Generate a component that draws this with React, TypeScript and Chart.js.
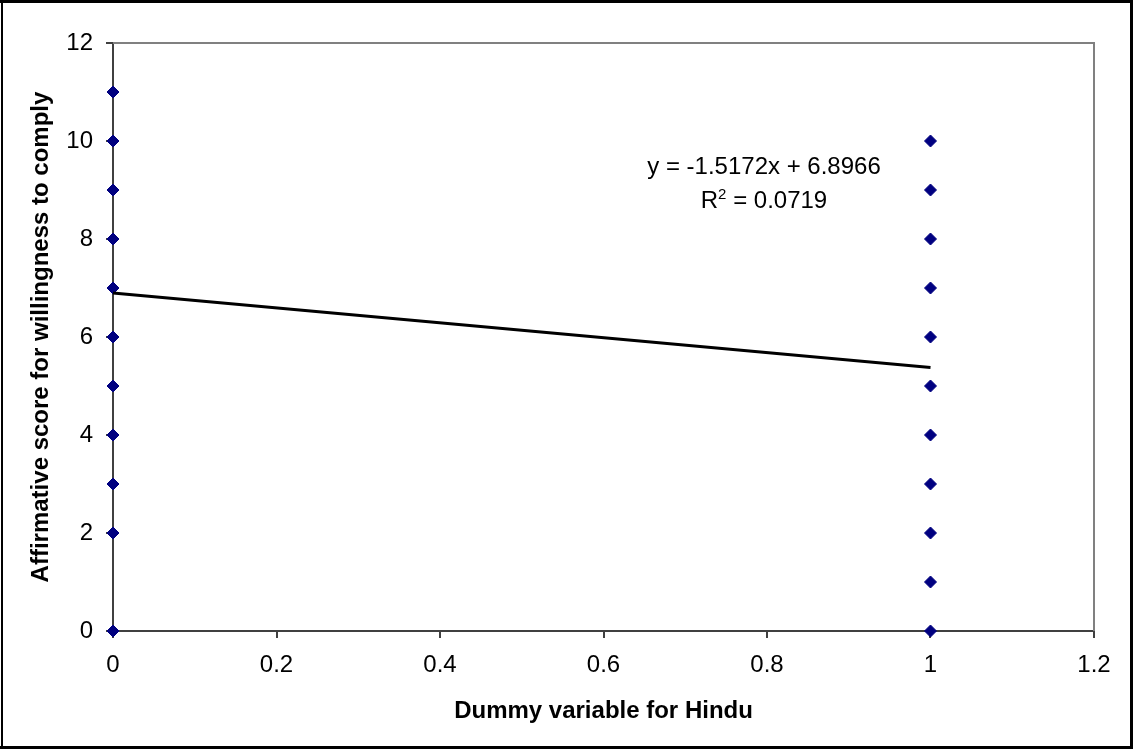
import React, { useEffect, useRef } from "react";
import { Chart, registerables } from "chart.js";

Chart.register(...registerables);

const hinduZeroScores = [11, 10, 9, 8, 7, 6, 5, 4, 3, 2, 0];
const hinduOneScores = [10, 9, 8, 7, 6, 5, 4, 3, 2, 1, 0];
const trendSlope = -1.5172;
const trendIntercept = 6.8966;
const trendXs = [0, 1];
const equationLabel = "y = -1.5172x + 6.8966";
const rSquaredValue = "0.0719";
const xTitle = "Dummy variable for Hindu";
const yTitle = "Affirmative score for willingness to comply";

const FONT = "'Liberation Sans', Arial, sans-serif";

const framePlugin = {
  id: "frame",
  afterDraw(chart: any) {
    const { ctx, chartArea, width, height } = chart;
    ctx.save();
    // outer border
    ctx.fillStyle = "#000";
    ctx.fillRect(0, 0, width, 3);
    ctx.fillRect(0, height - 3, width, 3);
    ctx.fillRect(1, 0, 2, height);
    ctx.fillRect(width - 3, 0, 3, height);
    // top / right plot border
    ctx.strokeStyle = "#808080";
    ctx.lineWidth = 2;
    ctx.beginPath();
    ctx.moveTo(chartArea.left, chartArea.top);
    ctx.lineTo(chartArea.right, chartArea.top);
    ctx.lineTo(chartArea.right, chartArea.bottom);
    ctx.stroke();
    // equation labels
    ctx.fillStyle = "#000";
    ctx.font = `24px ${FONT}`;
    ctx.textBaseline = "middle";
    ctx.textAlign = "center";
    const cx = 764;
    ctx.fillText(equationLabel, cx, 167);
    const part1 = "R";
    const part3 = " = " + rSquaredValue;
    ctx.font = `24px ${FONT}`;
    const w1 = ctx.measureText(part1).width;
    const w3 = ctx.measureText(part3).width;
    ctx.font = `15px ${FONT}`;
    const w2 = ctx.measureText("2").width;
    const total = w1 + w2 + w3;
    let x = cx - total / 2;
    ctx.textAlign = "left";
    ctx.font = `24px ${FONT}`;
    ctx.fillText(part1, x, 201);
    x += w1;
    ctx.font = `15px ${FONT}`;
    ctx.fillText("2", x, 195);
    x += w2;
    ctx.font = `24px ${FONT}`;
    ctx.fillText(part3, x, 201);
    ctx.restore();
  },
};

export default function App() {
  const ref = useRef<HTMLCanvasElement>(null);
  useEffect(() => {
    document.body.style.margin = "0";
    const pointStyle = {
      pointStyle: "rectRot",
      pointRadius: 6,
      pointBackgroundColor: "#000080",
      pointBorderColor: "#000080",
      pointBorderWidth: 1,
      showLine: false,
      clip: false,
    };
    const chart = new Chart(ref.current!, {
      type: "scatter",
      data: {
        datasets: [
          {
            data: trendXs.map((x) => ({ x, y: trendSlope * x + trendIntercept })),
            showLine: true,
            borderColor: "#000",
            borderWidth: 3,
            pointRadius: 0,
            type: "line",
            clip: false,
          } as any,
          {
            data: hinduZeroScores.map((y) => ({ x: 0, y })),
            ...pointStyle,
          } as any,
          {
            data: hinduOneScores.map((y) => ({ x: 1, y })),
            ...pointStyle,
          } as any,
        ],
      },
      options: {
        responsive: false,
        animation: false,
        layout: { padding: { top: 43, right: 39, left: 0, bottom: 0 } },
        plugins: { legend: { display: false }, tooltip: { enabled: false } },
        scales: {
          x: {
            type: "linear",
            min: 0,
            max: 1.2,
            afterFit: (s: any) => {
              s.height = 118;
            },
            ticks: {
              stepSize: 0.2,
              color: "#000",
              padding: 13,
              maxRotation: 0,
              font: { family: FONT, size: 24 },
              callback: (v: any) => String(Number(Number(v).toFixed(1))),
            },
            grid: { drawOnChartArea: false, drawTicks: true, tickLength: 7, color: "#404040", lineWidth: 2 },
            border: { display: true, color: "#404040", width: 2 },
            title: {
              display: true,
              text: xTitle,
              color: "#000",
              font: { family: FONT, size: 24, weight: "bold" },
              padding: { top: 4, bottom: 23 },
            },
          },
          y: {
            type: "linear",
            min: 0,
            max: 12,
            afterFit: (s: any) => {
              s.width = 113;
            },
            ticks: {
              stepSize: 2,
              color: "#000",
              padding: 13,
              font: { family: FONT, size: 24 },
            },
            grid: { drawOnChartArea: false, drawTicks: true, tickLength: 7, color: "#404040", lineWidth: 2 },
            border: { display: true, color: "#404040", width: 2 },
            title: {
              display: true,
              text: yTitle,
              color: "#000",
              font: { family: FONT, size: 24, weight: "bold" },
              padding: { top: 27, bottom: 4 },
            },
          },
        },
      } as any,
      plugins: [framePlugin],
    });
    return () => chart.destroy();
  }, []);
  return <canvas ref={ref} width={1133} height={749} style={{ display: "block", background: "#fff" }} />;
}
